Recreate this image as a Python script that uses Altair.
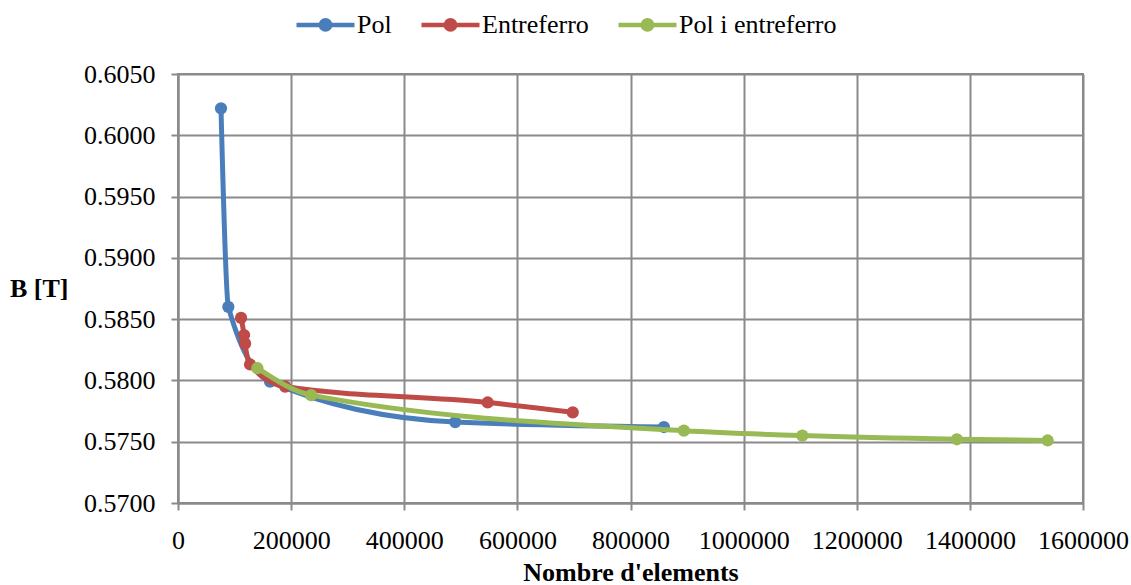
import altair as alt
import pandas as pd

# Series names and colours
series_names = ["Pol", "Entreferro", "Pol i entreferro"]
series_colors = ["#4A7EBB", "#BE4B48", "#98B954"]

# Mesh size (number of elements) and flux density B [T] for each study
pol_x = [76000, 89000, 162800, 490000, 859000]
pol_y = [0.6022, 0.5860, 0.5799, 0.5766, 0.5762]

ent_x = [111500, 116800, 118600, 127400, 189400, 547500, 697900]
ent_y = [0.5851, 0.5837, 0.5830, 0.5813, 0.5795, 0.5782, 0.5774]

both_x = [140400, 235400, 894300, 1103800, 1377000, 1537500]
both_y = [0.5810, 0.5788, 0.5759, 0.5755, 0.5752, 0.5751]

# Axis ticks
x_ticks = [0, 200000, 400000, 600000, 800000, 1000000, 1200000, 1400000, 1600000]
y_ticks = [0.5700, 0.5750, 0.5800, 0.5850, 0.5900, 0.5950, 0.6000, 0.6050]

rows = []
for name, xs, ys in zip(series_names, [pol_x, ent_x, both_x], [pol_y, ent_y, both_y]):
    for i, (xv, yv) in enumerate(zip(xs, ys)):
        rows.append({"serie": name, "elements": xv, "B": yv, "ordre": i})
df = pd.DataFrame(rows)

TEXT_FONT = "Liberation Serif"
GRID = "#8a8a8a"

color = alt.Color(
    "serie:N",
    scale=alt.Scale(domain=series_names, range=series_colors),
    legend=alt.Legend(
        title=None,
        orient="none",
        direction="horizontal",
        legendX=116,
        legendY=-81,
        symbolType="M-1,0L1,0M-0.16,0A0.16,0.16,0,1,1,0.16,0A0.16,0.16,0,1,1,-0.16,0Z",
        symbolSize=3364,
        symbolStrokeWidth=4.5,
        labelOffset=0,
        columnPadding=20,
        labelFont=TEXT_FONT,
        labelFontSize=26,
        labelFontWeight="normal",
        labelColor="black",
    ),
)

axis_style = dict(
    labelFont=TEXT_FONT,
    labelFontSize=26,
    labelFontWeight="normal",
    labelColor="black",
    labelFlush=False,
    labelOverlap=False,
    titleFont=TEXT_FONT,
    titleFontSize=26,
    titleFontWeight="bold",
    titleColor="black",
    tickSize=7,
    tickWidth=2,
    tickColor=GRID,
    domainColor=GRID,
    domainWidth=2,
    gridColor=GRID,
    gridWidth=2,
)

x = alt.X(
    "elements:Q",
    scale=alt.Scale(domain=[0, 1600000], nice=False),
    axis=alt.Axis(
        values=x_ticks,
        format="d",
        title="Nombre d'elements",
        titleY=69,
        titleBaseline="middle",
        labelPadding=17,
        **axis_style,
    ),
)

y = alt.Y(
    "B:Q",
    scale=alt.Scale(domain=[0.57, 0.605], zero=False, nice=False),
    axis=alt.Axis(
        values=y_ticks,
        format=".4f",
        title="B [T]",
        titleAngle=0,
        titleAlign="right",
        titleBaseline="middle",
        titleX=-110,
        titleY=214,
        labelPadding=16,
        **axis_style,
    ),
)

layers = []
for name in series_names:
    base = alt.Chart(df).transform_filter(alt.datum.serie == name)
    line = base.mark_line(interpolate="monotone", strokeWidth=5).encode(
        x=x, y=y, color=color, order="ordre:Q"
    )
    pts = base.mark_point(filled=True, size=150, opacity=1).encode(x=x, y=y, color=color)
    layers += [line, pts]

chart = (
    alt.layer(*layers)
    .properties(
        width=905,
        height=429,
        padding={"left": 178, "top": 74, "right": 48, "bottom": 82},
        autosize=alt.AutoSizeParams(type="none"),
    )
    .configure(background="white")
    .configure_view(stroke=GRID, strokeWidth=2)
)

chart.save("out.html", embed_options={"renderer": "svg", "actions": False})
